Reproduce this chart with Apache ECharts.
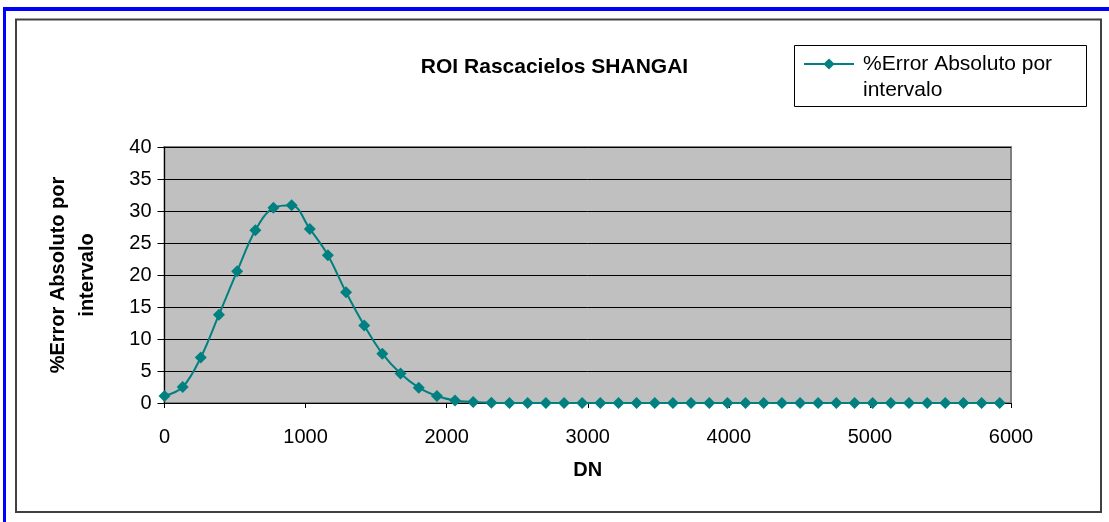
<!DOCTYPE html>
<html>
<head>
<meta charset="utf-8">
<script src="https://cdn.jsdelivr.net/npm/echarts@6/dist/echarts.min.js"></script>
<style>
  html, body { margin: 0; padding: 0; background: #fff; }
  #chart { width: 1109px; height: 522px; }
</style>
</head>
<body>
<div id="chart"></div>
<script>
// ---- data ----
const dnValues = [0, 129, 257, 386, 515, 644, 772, 901, 1030, 1158, 1287, 1416, 1544, 1673, 1802, 1931,
  2059, 2188, 2317, 2445, 2574, 2703, 2832, 2960, 3089, 3218, 3346, 3475, 3604, 3732, 3861, 3990,
  4118, 4247, 4376, 4505, 4633, 4762, 4891, 5019, 5148, 5277, 5406, 5534, 5663, 5792, 5920];
const errorValues = [1.1, 2.5, 7.1, 13.8, 20.6, 27.0, 30.5, 30.9, 27.2, 23.1, 17.3, 12.1, 7.7, 4.6, 2.4, 1.1,
  0.4, 0.15, 0.05, 0, 0, 0, 0, 0, 0, 0, 0, 0, 0, 0, 0, 0,
  0, 0, 0, 0, 0, 0, 0, 0, 0, 0, 0, 0, 0, 0, 0];
const seriesName = '%Error Absoluto por\nintervalo';
const titleText = 'ROI Rascacielos SHANGAI';
const xAxisName = 'DN';
const yAxisName = '%Error Absoluto por\nintervalo';

const FONT = '"Liberation Sans", Arial, sans-serif';
const chart = echarts.init(document.getElementById('chart'), null, { renderer: 'canvas' });

const points = dnValues.map((x, i) => [x, errorValues[i]]);

chart.setOption({
  animation: false,
  backgroundColor: '#ffffff',
  title: {
    text: titleText,
    left: 'center',
    top: 52,
    textStyle: { fontFamily: FONT, fontSize: 21, fontWeight: 'bold', color: '#000' }
  },
  legend: {
    left: 803,
    top: 25,
    padding: 0,
    itemWidth: 50,
    itemHeight: 14,
    formatter: function (name) { return '\n' + name; },
    textStyle: { fontFamily: FONT, fontSize: 21, color: '#000', lineHeight: 26, padding: [0, 0, 0, 4] },
    data: [seriesName]
  },
  graphic: [
    { type: 'rect', z: 0, silent: true, shape: { x: 3, y: 7, width: 1106, height: 4 }, style: { fill: '#0000ff' } },
    { type: 'rect', z: 0, silent: true, shape: { x: 3, y: 7, width: 3, height: 515 }, style: { fill: '#0000ff' } },
    { type: 'rect', z: 0, silent: true, shape: { x: 16, y: 19.5, width: 1085, height: 492.5 }, style: { fill: 'none', stroke: '#404040', lineWidth: 2 } },
    { type: 'rect', z: 1, silent: true, shape: { x: 794.5, y: 45.5, width: 292, height: 61 }, style: { fill: '#ffffff', stroke: '#000000', lineWidth: 1 } }
  ],
  grid: {
    left: 164.5,
    right: 98,
    top: 147,
    bottom: 119,
    show: true,
    backgroundColor: '#c0c0c0',
    borderColor: '#808080',
    borderWidth: 2
  },
  xAxis: {
    type: 'value',
    min: 0,
    max: 6000,
    interval: 1000,
    name: xAxisName,
    nameLocation: 'middle',
    nameGap: 57,
    nameTextStyle: { fontFamily: FONT, fontSize: 20, fontWeight: 'bold', color: '#000' },
    axisLine: { show: true, lineStyle: { color: '#000', width: 1 } },
    axisTick: { show: true, length: 5, lineStyle: { color: '#000' } },
    axisLabel: { margin: 24, fontFamily: FONT, fontSize: 20, color: '#000', formatter: function (v) { return String(v); } },
    splitLine: { show: false }
  },
  yAxis: {
    type: 'value',
    min: 0,
    max: 40,
    interval: 5,
    name: yAxisName,
    nameLocation: 'middle',
    nameRotate: 90,
    nameGap: 63,
    nameTextStyle: { fontFamily: FONT, fontSize: 20, fontWeight: 'bold', color: '#000', lineHeight: 29 },
    axisLine: { show: true, lineStyle: { color: '#000', width: 1 } },
    axisTick: { show: true, length: 7, lineStyle: { color: '#000' } },
    axisLabel: { margin: 13, fontFamily: FONT, fontSize: 20, color: '#000', formatter: function (v) { return String(v); } },
    splitLine: { show: true, lineStyle: { color: '#000', width: 1 } }
  },
  series: [{
    name: seriesName,
    type: 'line',
    data: points,
    smooth: 0.35,
    symbol: 'diamond',
    symbolSize: 12,
    showAllSymbol: true,
    color: '#008080',
    lineStyle: { color: '#008080', width: 2 },
    itemStyle: { color: '#008080' }
  }]
});
</script>
</body>
</html>
